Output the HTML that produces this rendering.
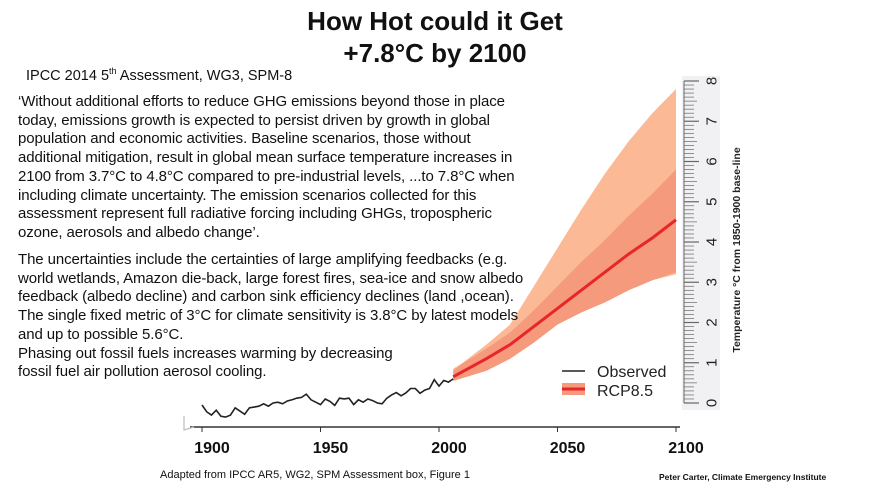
<!DOCTYPE html>
<html><head><meta charset="utf-8">
<style>
html,body{margin:0;padding:0;background:#fff;}
body{width:886px;height:498px;overflow:hidden;position:relative;font-family:"Liberation Sans",sans-serif;}
svg{position:absolute;left:0;top:0;}
.t{position:absolute;white-space:nowrap;color:#111;}
</style></head><body>
<svg width="886" height="498" id="chart"></svg>
<div class="t" style="left:0;width:870px;text-align:center;top:6px;font-size:26px;font-weight:bold;">How Hot could it Get</div>
<div class="t" style="left:0;width:870px;text-align:center;top:38px;font-size:26px;font-weight:bold;">+7.8°C by 2100</div>
<div class="t" style="left:26px;top:66px;font-size:14.5px;">IPCC 2014 5<sup style="font-size:9px">th</sup> Assessment, WG3, SPM-8</div>
<div class="t" style="left:18px;top:93px;font-size:15px;line-height:18.7px;letter-spacing:-0.1px;">‘Without additional efforts to reduce GHG emissions beyond those in place<br>today, emissions growth is expected to persist driven by growth in global<br>population and economic activities. Baseline scenarios, those without<br>additional mitigation, result in global mean surface temperature increases in<br>2100 from 3.7°C to 4.8°C compared to pre-industrial levels, ...to 7.8°C when<br>including climate uncertainty. The emission scenarios collected for this<br>assessment represent full radiative forcing including GHGs, tropospheric<br>ozone, aerosols and albedo change’.</div>
<div class="t" style="left:18px;top:251px;font-size:15px;line-height:18.7px;letter-spacing:-0.1px;">The uncertainties include the certainties of large amplifying feedbacks (e.g.<br>world wetlands, Amazon die-back, large forest fires, sea-ice and snow albedo<br>feedback (albedo decline) and carbon sink efficiency declines (land ,ocean).<br>The single fixed metric of 3°C for climate sensitivity is 3.8°C by latest models<br>and up to possible 5.6°C.<br>Phasing out fossil fuels increases warming by decreasing<br>fossil fuel air pollution aerosol cooling.</div>
<div class="t" style="left:160px;top:469px;font-size:11px;">Adapted from IPCC AR5, WG2, SPM Assessment box, Figure 1</div>
<div class="t" style="left:659px;top:472px;font-size:8.5px;font-weight:bold;">Peter Carter, Climate Emergency Institute</div>
<script>
// Data
const obsYears=[1900,1902,1904,1906,1908,1910,1912,1914,1916,1918,1920,1922,1924,1926,1928,1930,1932,1934,1936,1938,1940,1942,1944,1946,1948,1950,1952,1954,1956,1958,1960,1962,1964,1966,1968,1970,1972,1974,1976,1978,1980,1982,1984,1986,1988,1990,1992,1994,1996,1998,2000,2002,2004,2006];
const obsTemps=[-0.05,-0.22,-0.3,-0.18,-0.33,-0.35,-0.3,-0.12,-0.2,-0.28,-0.12,-0.1,-0.08,-0.02,-0.08,0.0,0.02,-0.02,0.05,0.08,0.12,0.14,0.22,0.08,0.02,-0.04,0.1,0.04,-0.06,0.12,0.1,0.12,-0.04,0.08,0.02,0.1,0.06,0.0,-0.02,0.12,0.2,0.26,0.18,0.25,0.36,0.36,0.24,0.32,0.36,0.58,0.42,0.56,0.52,0.6];
const projYears=[2006,2010,2020,2030,2040,2050,2060,2070,2080,2090,2100];
const rcpMean=[0.65,0.78,1.1,1.45,1.9,2.35,2.8,3.25,3.7,4.1,4.55];
const innerLow=[0.55,0.62,0.8,1.1,1.5,1.95,2.25,2.5,2.8,3.05,3.25];
const innerHigh=[0.8,0.98,1.35,1.75,2.3,2.9,3.5,4.05,4.65,5.2,5.8];
const outerLow=[0.55,0.62,0.8,1.1,1.5,1.95,2.25,2.5,2.8,3.05,3.2];
const outerHigh=[0.85,1.0,1.45,1.95,2.9,3.85,4.8,5.7,6.5,7.2,7.8];
const xTicks=[1900,1950,2000,2050,2100];
const yTicks=[0,1,2,3,4,5,6,7,8];

const NS="http://www.w3.org/2000/svg";
const svg=document.getElementById('chart');
const X=y=>202+(y-1900)*2.37;
const Y=v=>403-v*40.25;
function mk(tag,attrs,parent){const e=document.createElementNS(NS,tag);for(const k in attrs)e.setAttribute(k,attrs[k]);(parent||svg).appendChild(e);return e;}
function band(lo,hi){let d='';projYears.forEach((yr,i)=>{d+=(i?'L':'M')+X(yr)+','+Y(hi[i]);});for(let i=projYears.length-1;i>=0;i--)d+='L'+X(projYears[i])+','+Y(lo[i]);return d+'Z';}

const rb=mk('rect',{x:682,y:76,width:38,height:334,fill:'#f1f1f4'});


const ol=mk('path',{d:band(outerLow,outerHigh),fill:'#fbb995'});


const il=mk('path',{d:band(innerLow,innerHigh),fill:'#f59a7c'});


let md='';projYears.forEach((yr,i)=>{md+=(i?'L':'M')+X(yr)+','+Y(rcpMean[i]);});
const ml=mk('path',{d:md,fill:'none',stroke:'#e8262a','stroke-width':3});


let od='';obsYears.forEach((yr,i)=>{od+=(i?'L':'M')+X(yr)+','+Y(obsTemps[i]);});
const obs=mk('path',{d:od,fill:'none',stroke:'#222','stroke-width':1.6});


const ax=mk('line',{x1:190,y1:427,x2:680,y2:427,stroke:'#333','stroke-width':1.5});


mk('path',{d:'M184,416 L184,430 L194,427',fill:'none',stroke:'#bbb','stroke-width':1.2});
xTicks.forEach(t=>{
  mk('line',{x1:X(t),y1:427,x2:X(t),y2:432,stroke:'#333'});
  const tx=mk('text',{x:X(t)+10,y:453,'text-anchor':'middle','font-size':16,'font-weight':'bold','font-family':'"Liberation Sans Narrow","Liberation Sans",sans-serif',fill:'#111'});
  tx.textContent=t;
  
  
});
for(let i=0;i<=80;i++){const v=i/10;const big=i%10==0;const mid=i%5==0;
  mk('line',{x1:684,y1:Y(v),x2:big?699:(mid?697:694),y2:Y(v),stroke:'#666','stroke-width':big?1.2:0.7});}
mk('line',{x1:684,y1:Y(0),x2:684,y2:Y(8),stroke:'#666'});
yTicks.forEach(t=>{
  const tx=mk('text',{x:0,y:0,transform:`translate(706,${Y(t)}) rotate(-90)`,'text-anchor':'middle','font-size':15,fill:'#222','dominant-baseline':'hanging'});
  tx.textContent=t;
  
  
});
const yt=mk('text',{x:0,y:0,transform:'translate(740,250) rotate(-90)','text-anchor':'middle','font-size':10.5,'font-weight':'bold',fill:'#222'});
yt.textContent='Temperature °C from 1850-1900 base-line';


mk('line',{x1:562,y1:371,x2:585,y2:371,stroke:'#222','stroke-width':1.6});
mk('rect',{x:562,y:383,width:23,height:12,fill:'#f59a7c'});
mk('line',{x1:562,y1:389,x2:585,y2:389,stroke:'#e8262a','stroke-width':3});
const l1=mk('text',{x:597,y:377,'font-size':16,'font-family':'"Liberation Sans Narrow","Liberation Sans",sans-serif',fill:'#222'});l1.textContent='Observed';


const l2=mk('text',{x:597,y:396,'font-size':16,'font-family':'"Liberation Sans Narrow","Liberation Sans",sans-serif',fill:'#222'});l2.textContent='RCP8.5';


</script>
</body></html>
